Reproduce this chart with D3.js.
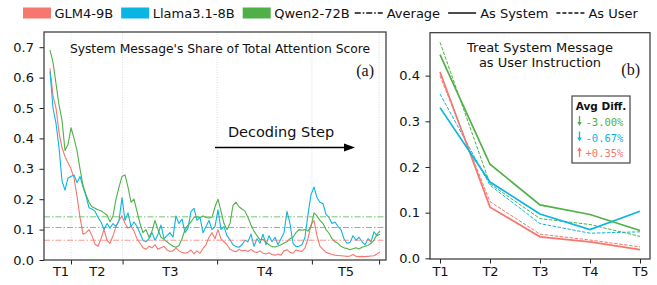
<!DOCTYPE html>
<html>
<head>
<meta charset="utf-8">
<script src="https://cdn.jsdelivr.net/npm/d3@7"></script>
<style>
  body { margin: 0; background: #fff; }
  svg { display: block; font-family: "DejaVu Sans", sans-serif; }
  text { fill: #111; }
</style>
</head>
<body>
<svg></svg>
<script>
// models and colours
const models = ['GLM4-9B', 'Llama3.1-8B', 'Qwen2-72B'];
const colors = ['#f5776e', '#0bb5e3', '#50b047'];

// share of total attention per decoding step (sampled every few steps)
const glm = [0.63, 0.54, 0.50, 0.42, 0.37, 0.34, 0.32, 0.30, 0.27, 0.21,
  0.14, 0.085, 0.09, 0.10, 0.08, 0.052, 0.045, 0.07, 0.10, 0.065,
  0.055, 0.08, 0.11, 0.13, 0.145, 0.12, 0.105, 0.11, 0.095, 0.07,
  0.055, 0.04, 0.035, 0.045, 0.04, 0.05, 0.035, 0.04, 0.045, 0.033,
  0.028, 0.03, 0.04, 0.03, 0.025, 0.022, 0.025, 0.033, 0.02, 0.03,
  0.022, 0.038, 0.05, 0.075, 0.09, 0.07, 0.10, 0.07, 0.06, 0.05,
  0.035, 0.03, 0.027, 0.035, 0.03, 0.032, 0.028, 0.035, 0.027, 0.025,
  0.03, 0.022, 0.02, 0.024, 0.018, 0.016, 0.02, 0.016, 0.03, 0.034,
  0.025, 0.022, 0.033, 0.03, 0.028, 0.04, 0.07, 0.115, 0.13, 0.08,
  0.045, 0.035, 0.025, 0.022, 0.018, 0.016, 0.015, 0.014, 0.013, 0.012,
  0.013, 0.018, 0.012, 0.011, 0.012, 0.011, 0.012, 0.013, 0.014, 0.02, 0.027];
const llama = [0.62, 0.50, 0.45, 0.37, 0.26, 0.23, 0.27, 0.275, 0.28, 0.255,
  0.275, 0.24, 0.21, 0.172, 0.168, 0.16, 0.14, 0.125, 0.10, 0.12,
  0.105, 0.12, 0.11, 0.13, 0.205, 0.13, 0.155, 0.11, 0.125, 0.11,
  0.088, 0.065, 0.06, 0.07, 0.09, 0.065, 0.085, 0.115, 0.07, 0.08,
  0.09, 0.075, 0.145, 0.12, 0.135, 0.09, 0.105, 0.16, 0.17, 0.13,
  0.14, 0.09, 0.11, 0.13, 0.10, 0.11, 0.165, 0.10, 0.11, 0.08,
  0.066, 0.05, 0.044, 0.042, 0.05, 0.065, 0.06, 0.085, 0.045, 0.07,
  0.055, 0.085, 0.05, 0.08, 0.06, 0.075, 0.05, 0.07, 0.09, 0.16,
  0.12, 0.055, 0.044, 0.045, 0.05, 0.075, 0.15, 0.215, 0.24, 0.205,
  0.19, 0.185, 0.15, 0.14, 0.12, 0.125, 0.11, 0.10, 0.07, 0.055,
  0.058, 0.08, 0.065, 0.075, 0.06, 0.05, 0.07, 0.06, 0.093, 0.08, 0.085];
const qwen = [0.69, 0.65, 0.58, 0.51, 0.46, 0.36, 0.38, 0.435, 0.40, 0.36,
  0.30, 0.245, 0.215, 0.19, 0.175, 0.17, 0.165, 0.162, 0.155, 0.148,
  0.126, 0.145, 0.20, 0.24, 0.275, 0.28, 0.24, 0.19, 0.20, 0.16,
  0.12, 0.09, 0.10, 0.075, 0.095, 0.13, 0.10, 0.075, 0.068, 0.06,
  0.052, 0.045, 0.042, 0.048, 0.07, 0.10, 0.115, 0.125, 0.14, 0.142,
  0.14, 0.145, 0.14, 0.138, 0.14, 0.175, 0.20, 0.16, 0.12, 0.10,
  0.12, 0.18, 0.19, 0.175, 0.168, 0.16, 0.14, 0.115, 0.095, 0.08,
  0.066, 0.068, 0.058, 0.05, 0.044, 0.043, 0.046, 0.05, 0.056, 0.06,
  0.07, 0.075, 0.09, 0.10, 0.098, 0.10, 0.095, 0.11, 0.155, 0.145,
  0.13, 0.12, 0.10, 0.088, 0.07, 0.06, 0.055, 0.045, 0.04, 0.038,
  0.034, 0.037, 0.04, 0.036, 0.042, 0.045, 0.048, 0.055, 0.065, 0.085, 0.095];
const averages = [0.065, 0.107, 0.142];

// turn boundaries (in sampled steps) and turn labels
const turnEnds = [7, 24.2, 55.7, 87.3, 109.7];
const turns = ['T1', 'T2', 'T3', 'T4', 'T5'];

// panel (b): share per turn
const sysShare = [
  [0.408, 0.112, 0.047, 0.036, 0.019],
  [0.330, 0.167, 0.097, 0.063, 0.103],
  [0.446, 0.206, 0.117, 0.096, 0.061]
];
const userShare = [
  [0.400, 0.124, 0.053, 0.040, 0.025],
  [0.360, 0.160, 0.076, 0.055, 0.058],
  [0.473, 0.163, 0.087, 0.074, 0.048]
];
const avgDiff = ['-3.00%', '-0.67%', '+0.35%'];
const diffModel = [2, 1, 0];

const svg = d3.select('svg').attr('width', 657).attr('height', 285);

// ---------- legend ----------
const leg = svg.append('g');
let lx = 23;
models.forEach((m, i) => {
  leg.append('rect').attr('x', lx).attr('y', 7.5).attr('width', 28).attr('height', 11)
    .attr('fill', colors[i]);
  const t = leg.append('text').attr('x', lx + 31.5).attr('y', 18).attr('font-size', 13).text(m);
  lx += 31.5 + t.node().getComputedTextLength() + 8;
});
const styles = [
  { name: 'Average', dash: '6,2,1.5,2' },
  { name: 'As System', dash: null },
  { name: 'As User', dash: '4,2' }
];
lx -= 3;
styles.forEach((s) => {
  leg.append('line').attr('x1', lx).attr('x2', lx + 28).attr('y1', 13).attr('y2', 13)
    .attr('stroke', '#111').attr('stroke-width', 1.5)
    .attr('stroke-dasharray', s.dash);
  const t = leg.append('text').attr('x', lx + 32).attr('y', 18).attr('font-size', 13).text(s.name);
  lx += 32 + t.node().getComputedTextLength() + 8;
});

// ---------- panel (a) ----------
const xa = d3.scaleLinear().domain([-2, 112]).range([44, 386]);
const ya = d3.scaleLinear().domain([0, 0.75]).range([260, 32]);
const ga = svg.append('g');

ga.selectAll('.grid').data(turnEnds).join('line')
  .attr('x1', (d) => xa(d)).attr('x2', (d) => xa(d))
  .attr('y1', ya(0.75)).attr('y2', ya(0))
  .attr('stroke', '#d0d0d0').attr('stroke-width', 0.8).attr('stroke-dasharray', '1,1.5');

const lineA = d3.line().x((d, i) => xa(i)).y((d) => ya(d));
[glm, llama, qwen].forEach((s, i) => {
  ga.append('path').datum(s).attr('d', lineA).attr('fill', 'none')
    .attr('stroke', colors[i]).attr('stroke-width', 1.1).attr('stroke-linejoin', 'round');
});
averages.forEach((a, i) => {
  ga.append('line').attr('x1', xa(-2)).attr('x2', xa(112))
    .attr('y1', ya(a)).attr('y2', ya(a))
    .attr('stroke', colors[i]).attr('stroke-width', 1).attr('opacity', 0.75)
    .attr('stroke-dasharray', '6,2,1.5,2');
});

const yAxisA = ga.append('g').attr('transform', 'translate(44,0)')
  .call(d3.axisLeft(ya).tickValues(d3.range(0, 0.75, 0.1)).tickFormat(d3.format('.1f'))
    .tickSize(4.5).tickPadding(5.5).tickSizeOuter(0));
const xTickA = ga.append('g').attr('transform', 'translate(0,260)')
  .call(d3.axisBottom(xa).tickValues(turnEnds).tickFormat('').tickSize(4.5).tickSizeOuter(0));
const mids = turnEnds.map((d, i) => (i === 0 ? 0 : turnEnds[i - 1]) / 2 + d / 2);
const xLabA = ga.append('g').attr('transform', 'translate(0,260)')
  .call(d3.axisBottom(xa).tickValues(mids).tickFormat((d, i) => turns[i])
    .tickSize(0).tickPadding(7).tickSizeOuter(0));
xLabA.selectAll('line').remove();
[yAxisA, xTickA, xLabA].forEach((a) => {
  a.select('.domain').remove();
  a.attr('font-family', null).attr('font-size', null);
  a.selectAll('text').attr('font-size', 13).attr('fill', '#111');
  a.selectAll('line').attr('stroke', '#222');
});
ga.append('rect').attr('x', 44).attr('y', 32).attr('width', 342).attr('height', 228)
  .attr('fill', 'none').attr('stroke', '#333').attr('stroke-width', 1.2);

ga.append('text').attr('x', 220).attr('y', 53).attr('text-anchor', 'middle')
  .attr('font-size', 12.3).text("System Message's Share of Total Attention Score");
ga.append('text').attr('x', 374).attr('y', 76).attr('text-anchor', 'end')
  .style('font-family', '"Liberation Serif", serif').attr('font-size', 16).text('(a)');
ga.append('text').attr('x', 281).attr('y', 137).attr('text-anchor', 'middle')
  .attr('font-size', 14.5).text('Decoding Step');
ga.append('line').attr('x1', 215).attr('x2', 346).attr('y1', 147.5).attr('y2', 147.5)
  .attr('stroke', '#000').attr('stroke-width', 1.6);
ga.append('path').attr('d', 'M344,143.5 L355,147.5 L344,151.5 Z').attr('fill', '#000');

// ---------- panel (b) ----------
const xb = d3.scaleLinear().domain([-0.2, 4.2]).range([430, 650]);
const yb = d3.scaleLinear().domain([-0.0015, 0.494]).range([259, 32.7]);
const gb = svg.append('g');
const lineB = d3.line().x((d, i) => xb(i)).y((d) => yb(d));
userShare.forEach((s, i) => {
  gb.append('path').datum(s).attr('d', lineB).attr('fill', 'none')
    .attr('stroke', colors[i]).attr('stroke-width', 1).attr('stroke-dasharray', '3.5,1.5');
});
sysShare.forEach((s, i) => {
  gb.append('path').datum(s).attr('d', lineB).attr('fill', 'none')
    .attr('stroke', colors[i]).attr('stroke-width', 1.7);
});
const yAxisB = gb.append('g').attr('transform', 'translate(430,0)')
  .call(d3.axisLeft(yb).tickValues(d3.range(0, 0.45, 0.1)).tickFormat(d3.format('.1f'))
    .tickSize(4.5).tickPadding(5.5).tickSizeOuter(0));
const xAxisB = gb.append('g').attr('transform', 'translate(0,259)')
  .call(d3.axisBottom(xb).tickValues(d3.range(5)).tickFormat((d) => turns[d])
    .tickSize(4.5).tickPadding(3).tickSizeOuter(0));
[yAxisB, xAxisB].forEach((a) => {
  a.select('.domain').remove();
  a.attr('font-family', null).attr('font-size', null);
  a.selectAll('text').attr('font-size', 13).attr('fill', '#111');
  a.selectAll('line').attr('stroke', '#222');
});
gb.append('rect').attr('x', 430).attr('y', 32.7).attr('width', 220).attr('height', 226.3)
  .attr('fill', 'none').attr('stroke', '#333').attr('stroke-width', 1.2);

gb.append('text').attr('x', 540).attr('y', 52).attr('text-anchor', 'middle')
  .attr('font-size', 13).text('Treat System Message');
gb.append('text').attr('x', 540).attr('y', 67).attr('text-anchor', 'middle')
  .attr('font-size', 13).text('as User Instruction');
gb.append('text').attr('x', 640).attr('y', 75).attr('text-anchor', 'end')
  .style('font-family', '"Liberation Serif", serif').attr('font-size', 16).text('(b)');

// avg diff box
const box = gb.append('g');
box.append('rect').attr('x', 572).attr('y', 96).attr('width', 58).attr('height', 67)
  .attr('fill', '#fff').attr('stroke', '#444').attr('stroke-width', 1.2);
box.append('text').attr('x', 601).attr('y', 109.5).attr('text-anchor', 'middle')
  .attr('font-size', 10.5).attr('font-weight', 'bold').text('Avg Diff.');
avgDiff.forEach((d, k) => {
  const c = colors[diffModel[k]];
  const base = 126 + k * 15.5;
  const up = d[0] === '+';
  const top = base - 10;
  const bot = base;
  box.append('line').attr('x1', 579.5).attr('x2', 579.5)
    .attr('y1', up ? top + 3 : top).attr('y2', up ? bot : bot - 3)
    .attr('stroke', c).attr('stroke-width', 1.3);
  box.append('path')
    .attr('d', up ? `M577.3,${top + 4} L579.5,${top} L581.7,${top + 4} Z`
      : `M577.3,${bot - 4} L579.5,${bot} L581.7,${bot - 4} Z`)
    .attr('fill', c);
  box.append('text').attr('x', 585.5).attr('y', base)
    .style('font-family', '"DejaVu Sans Mono", monospace').attr('font-size', 10.5)
    .style('fill', c).text(d);
});
</script>
</body>
</html>
